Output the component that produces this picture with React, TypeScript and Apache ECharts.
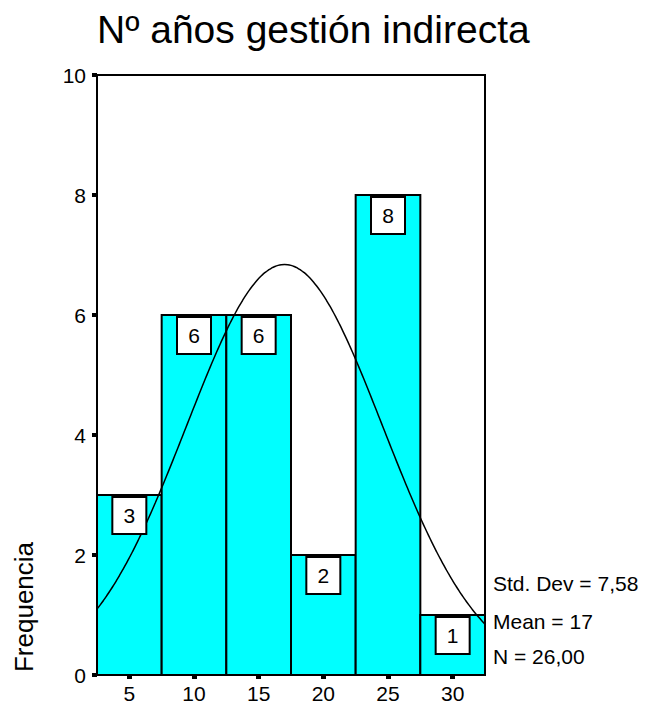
import React, { useEffect, useRef } from "react";
import * as echarts from "echarts";

// Histogram bins (centre of each 5-year bin) and frequencies
const binCenters = [5, 10, 15, 20, 25, 30];
const frequencies = [3, 6, 6, 2, 8, 1];
const binWidth = 5;

// X-axis tick labels and y-axis range
const xTickValues = [5, 10, 15, 20, 25, 30];
const xMin = 2.5;
const xMax = 32.5;
const yMax = 10;

// Summary statistics shown on the chart (used for the fitted normal curve)
const stdDev = 7.58;
const mean = 17;
const nCases = 26;
const statsLabels = ["Std. Dev = 7,58", "Mean = 17", "N = 26,00"];

const title = "Nº años gestión indirecta";
const yName = "Frequencia";

const FONT = "'Liberation Sans', Arial, Helvetica, sans-serif";

export default function App() {
  const ref = useRef<HTMLDivElement>(null);

  useEffect(() => {
    if (!ref.current) return;
    const chart = echarts.init(ref.current, undefined, { renderer: "svg" });

    // fitted normal curve from the displayed mean / std. dev / N
    const curve: number[][] = [];
    for (let x = xMin; x <= xMax + 1e-9; x += 0.25) {
      const z = (x - mean) / stdDev;
      const yv = (nCases * binWidth) / (stdDev * Math.sqrt(2 * Math.PI)) * Math.exp(-0.5 * z * z);
      curve.push([x, yv]);
    }

    const barData = binCenters.map((c, i) => [c, frequencies[i]]);

    chart.setOption({
      animation: false,
      grid: {
        left: 97,
        top: 75,
        width: 388,
        height: 600,
        show: true,
        borderColor: "#000",
        borderWidth: 2,
        backgroundColor: "#fff",
      },
      xAxis: {
        type: "value",
        min: xMin,
        max: xMax,
        splitLine: { show: false },
        axisLine: { show: true, lineStyle: { color: "#000", width: 2 } },
        axisTick: {
          show: true,
          customValues: xTickValues,
          length: 4,
          lineStyle: { color: "#000", width: 5 },
        },
        axisLabel: {
          customValues: xTickValues,
          color: "#000",
          fontSize: 21,
          fontFamily: FONT,
          margin: 8,
        },
      },
      yAxis: {
        type: "value",
        min: 0,
        max: yMax,
        interval: 2,
        splitLine: { show: false },
        axisLine: { show: true, lineStyle: { color: "#000", width: 2 } },
        axisTick: { show: true, length: 5, lineStyle: { color: "#000", width: 4 } },
        axisLabel: {
          color: "#000",
          fontSize: 21,
          fontFamily: FONT,
          margin: 11,
        },
      },
      series: [
        {
          type: "custom",
          z: 1,
          data: barData,
          renderItem: (params: any, api: any) => {
            const x = api.value(0);
            const y = api.value(1);
            const p1 = api.coord([x - binWidth / 2, y]);
            const p2 = api.coord([x + binWidth / 2, 0]);
            return {
              type: "rect",
              shape: { x: p1[0], y: p1[1], width: p2[0] - p1[0], height: p2[1] - p1[1] },
              style: { fill: "#00FFFF", stroke: "#000", lineWidth: 2 },
            };
          },
        },
        {
          type: "line",
          z: 3,
          data: curve,
          smooth: true,
          showSymbol: false,
          symbol: "none",
          lineStyle: { color: "#000", width: 1.5 },
        },
        {
          type: "custom",
          z: 4,
          data: barData,
          renderItem: (params: any, api: any) => {
            const x = api.value(0);
            const y = api.value(1);
            const p = api.coord([x, y]);
            const w = 34;
            const h = 37;
            return {
              type: "group",
              children: [
                {
                  type: "rect",
                  shape: { x: p[0] - w / 2, y: p[1] + 2, width: w, height: h },
                  style: { fill: "#fff", stroke: "#000", lineWidth: 2 },
                },
                {
                  type: "text",
                  x: p[0],
                  y: p[1] + 2 + h / 2,
                  style: {
                    text: String(y),
                    fontSize: 21,
                    fontFamily: FONT,
                    fill: "#000",
                    align: "center",
                    verticalAlign: "middle",
                  },
                },
              ],
            };
          },
        },
      ],
      graphic: [
        {
          type: "text",
          x: 97,
          y: 29,
          style: {
            text: title,
            fontSize: 39,
            fontFamily: FONT,
            fill: "#000",
            align: "left",
            verticalAlign: "middle",
          },
        },
        {
          type: "text",
          x: 24,
          y: 607,
          rotation: Math.PI / 2,
          style: {
            text: yName,
            fontSize: 26,
            fontFamily: FONT,
            fill: "#000",
            align: "center",
            verticalAlign: "middle",
          },
        },
        ...statsLabels.map((t, i) => ({
          type: "text",
          x: 493,
          y: [583.5, 621.5, 656.5][i],
          style: {
            text: t,
            fontSize: 21,
            fontFamily: FONT,
            fill: "#000",
            align: "left",
            verticalAlign: "middle",
          },
        })),
      ],
    });

    return () => chart.dispose();
  }, []);

  return (
    <div
      ref={ref}
      style={{ position: "absolute", left: 0, top: 0, width: 647, height: 706 }}
    />
  );
}
